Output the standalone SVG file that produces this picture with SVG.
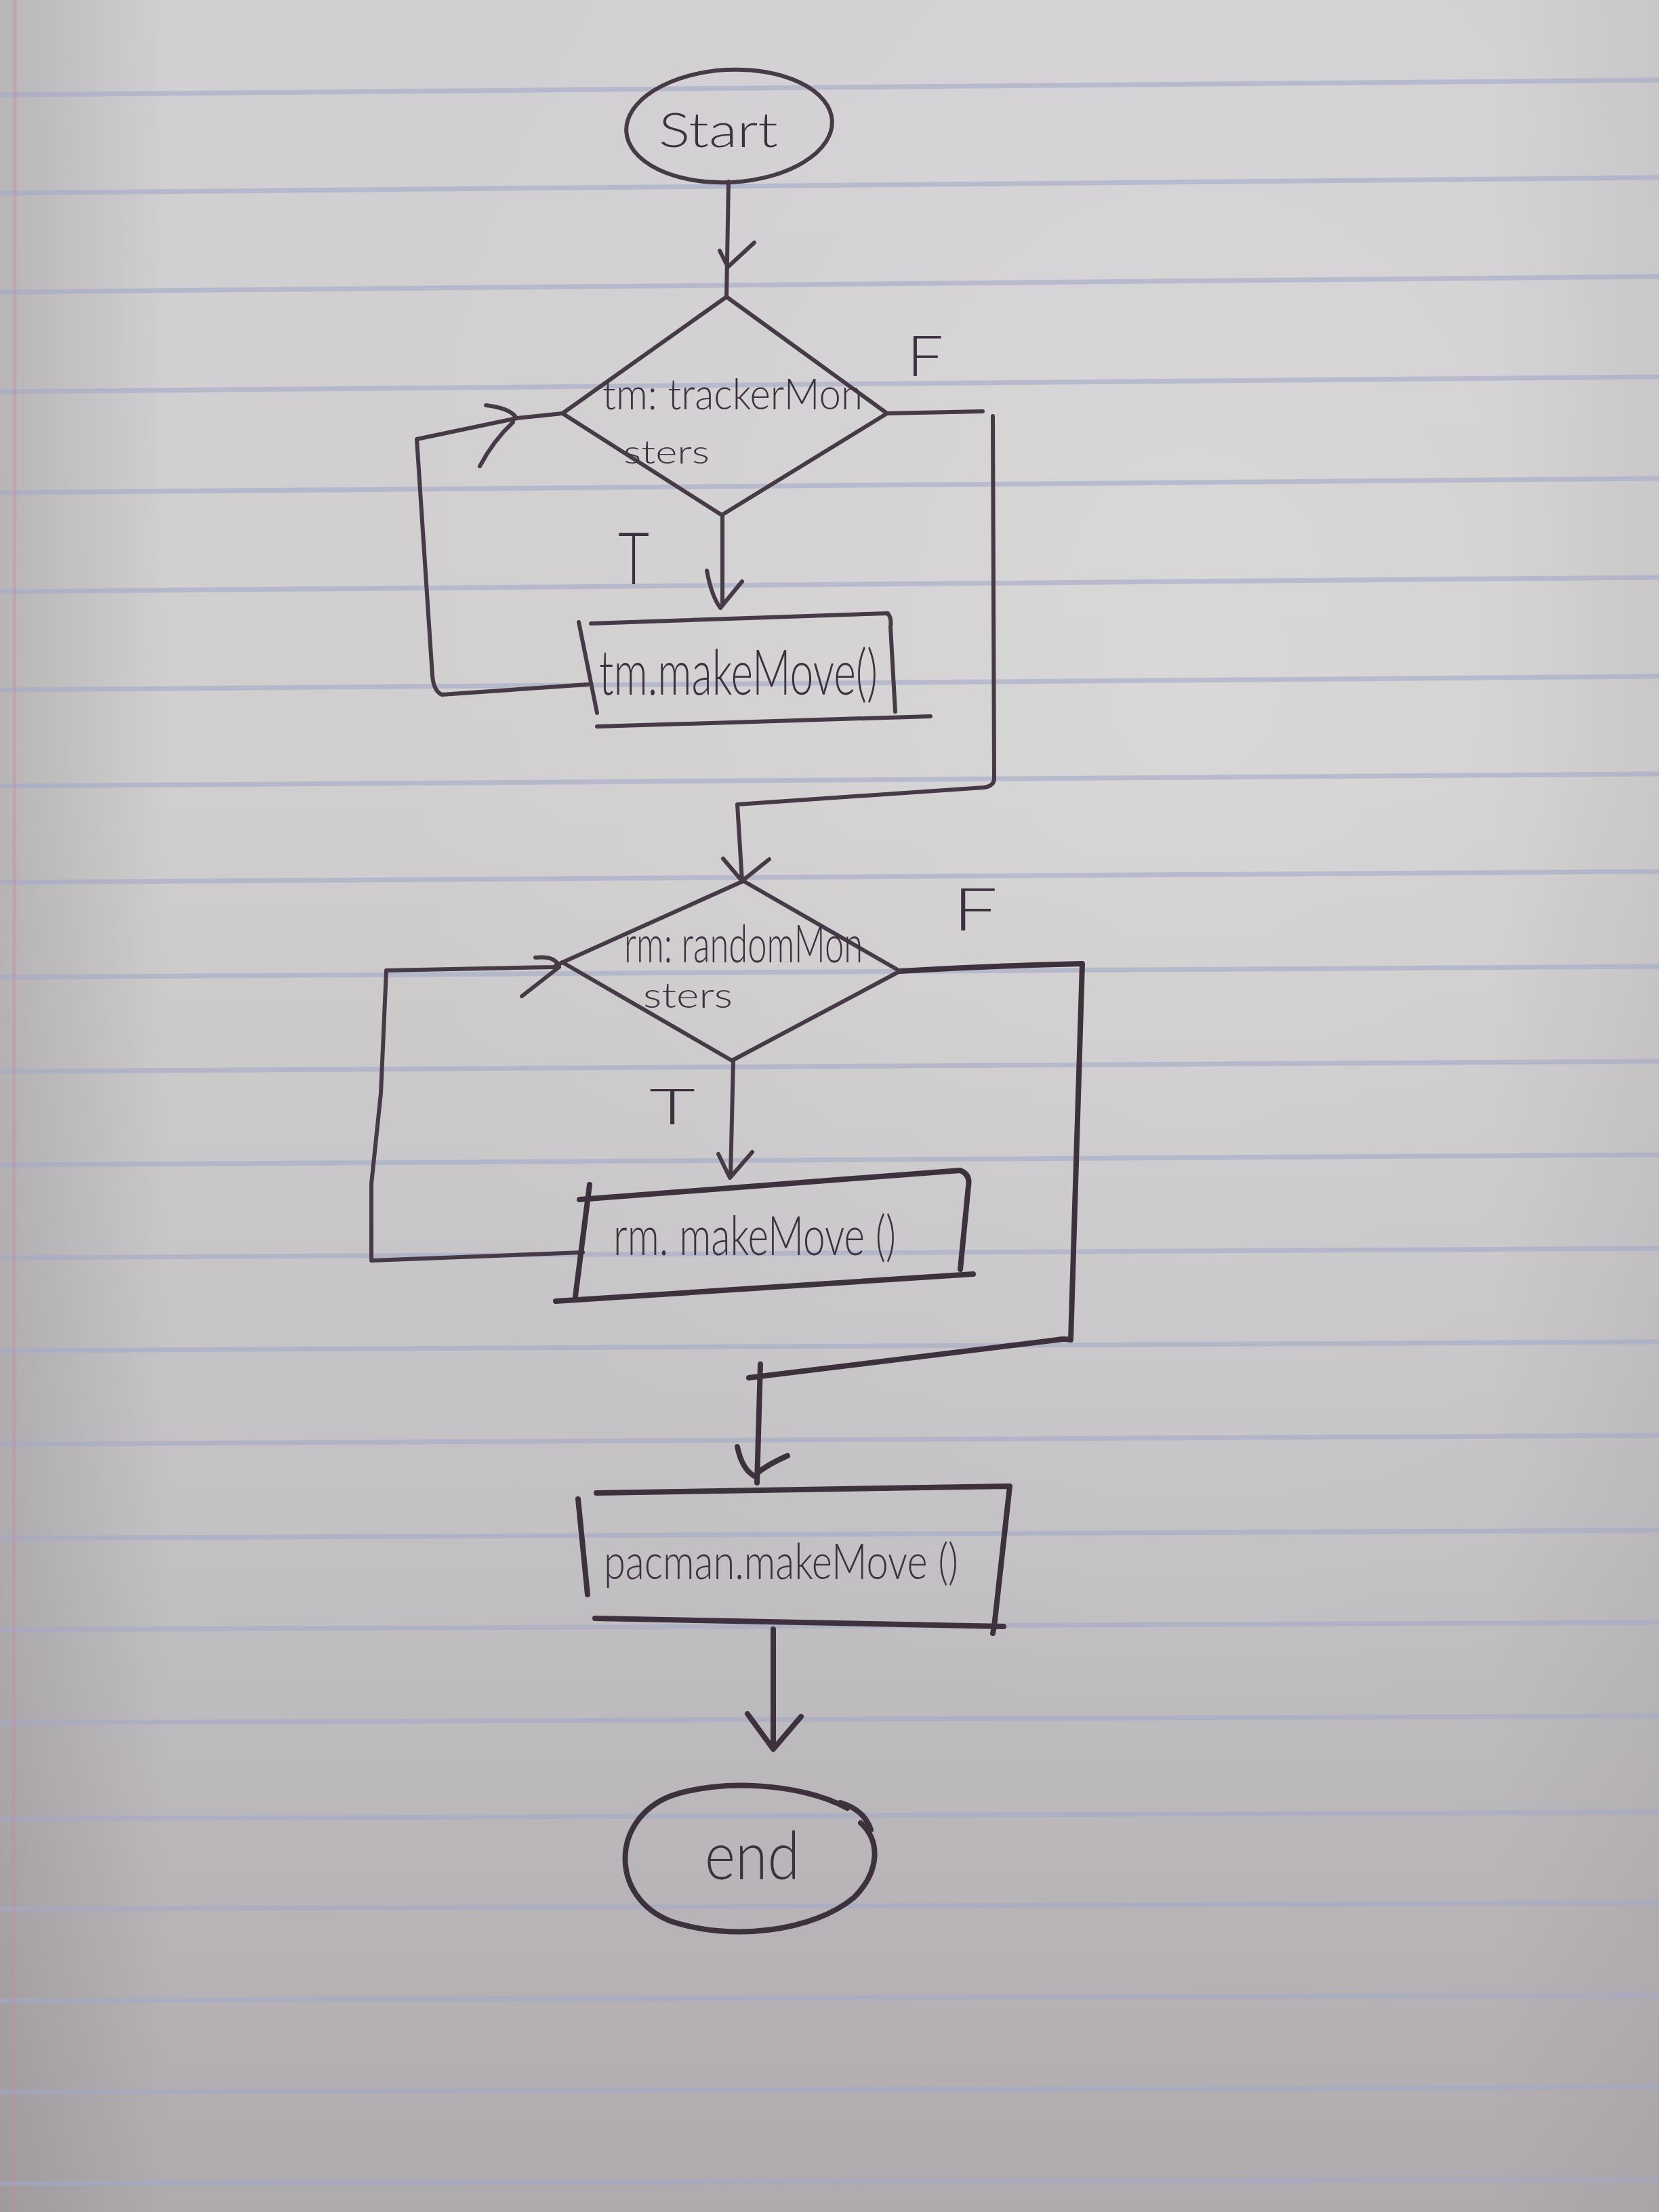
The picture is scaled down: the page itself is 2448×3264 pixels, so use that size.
<svg xmlns="http://www.w3.org/2000/svg" width="2448" height="3264" viewBox="0 0 2448 3264">
  <defs>
    <linearGradient id="paper" x1="0" y1="0" x2="0" y2="1">
      <stop offset="0" stop-color="#d1cfd1"/>
      <stop offset="0.35" stop-color="#d0cecf"/>
      <stop offset="0.7" stop-color="#c3c0c3"/>
      <stop offset="1" stop-color="#aeaaad"/>
    </linearGradient>
    <radialGradient id="glow" cx="0.72" cy="0.3" r="0.5">
      <stop offset="0" stop-color="#ffffff" stop-opacity="0.18"/>
      <stop offset="1" stop-color="#ffffff" stop-opacity="0"/>
    </radialGradient>
    <linearGradient id="edge" x1="0" y1="0" x2="1" y2="0">
      <stop offset="0" stop-color="#6e6a6e" stop-opacity="0.25"/>
      <stop offset="0.1" stop-color="#6e6a6e" stop-opacity="0"/>
      <stop offset="0.9" stop-color="#6e6a6e" stop-opacity="0"/>
      <stop offset="1" stop-color="#6e6a6e" stop-opacity="0.1"/>
    </linearGradient>
  </defs>
  <style>
    .rule { stroke: #a4a8c8; stroke-width: 7; stroke-opacity: 0.6; fill: none; }
    .ink { fill: none; stroke: #463a46; stroke-width: 6; stroke-linecap: round; stroke-linejoin: round; }
    .bold { stroke-width: 8; stroke: #3c313d; }
    .txt { font-family: "Lato", "Liberation Sans", sans-serif; font-weight: 300; fill: #3d3140; stroke: none; }
  </style>

  <!-- lined paper -->
  <rect width="2448" height="3264" fill="url(#paper)"/>
  <rect width="2448" height="3264" fill="url(#glow)"/>
  <rect width="2448" height="3264" fill="url(#edge)"/>
  <g id="paper-rules">
    <path class="rule" d="M0,140 L2448,118"/>
    <path class="rule" d="M0,285 L2448,262"/>
    <path class="rule" d="M0,431 L2448,408"/>
    <path class="rule" d="M0,578 L2448,556"/>
    <path class="rule" d="M0,727 L2448,706"/>
    <path class="rule" d="M0,873 L2448,852"/>
    <path class="rule" d="M0,1018 L2448,998"/>
    <path class="rule" d="M0,1160 L2448,1142"/>
    <path class="rule" d="M0,1302 L2448,1286"/>
    <path class="rule" d="M0,1442 L2448,1426"/>
    <path class="rule" d="M0,1581 L2448,1566"/>
    <path class="rule" d="M0,1719 L2448,1704"/>
    <path class="rule" d="M0,1856 L2448,1842"/>
    <path class="rule" d="M0,1993 L2448,1980"/>
    <path class="rule" d="M0,2131 L2448,2118"/>
    <path class="rule" d="M0,2270 L2448,2258"/>
    <path class="rule" d="M0,2405 L2448,2394"/>
    <path class="rule" d="M0,2542 L2448,2532"/>
    <path class="rule" d="M0,2684 L2448,2674"/>
    <path class="rule" d="M0,2817 L2448,2808"/>
    <path class="rule" d="M0,2952 L2448,2944"/>
    <path class="rule" d="M0,3087 L2448,3080"/>
    <path class="rule" d="M0,3222 L2448,3216"/>
  </g>
  <path d="M22,0 L20,3264" stroke="#c98f98" stroke-width="5" stroke-opacity="0.45" fill="none"/>

  <!-- connectors -->
  <g id="connectors" class="ink">
    <!-- start to first decision -->
    <path d="M1075,268 L1072,438"/>
    <path d="M1062,370 L1074,394 L1113,358"/>
    <!-- first decision, true branch -->
    <path d="M1066,760 L1066,893"/>
    <path d="M1043,842 Q1050,880 1063,897 L1095,858"/>
    <!-- loop back to first decision -->
    <path d="M867,1010 L652,1025 Q640,1020 638,997 L615,648 L763,617 L830,610"/>
    <path d="M717,598 Q750,602 760,614 M757,623 Q728,650 708,688"/>
    <!-- first decision, false branch -->
    <path d="M1309,610 L1450,607"/>
    <path d="M1465,614 L1467,1150 Q1466,1160 1452,1162 L1088,1187 L1095,1300"/>
    <path d="M1067,1267 L1095,1300 L1135,1268"/>
    <!-- second decision, true branch -->
    <path d="M1082,1565 L1078,1735"/>
    <path d="M1060,1703 L1077,1738 L1110,1700"/>
    <!-- loop back to second decision -->
    <path d="M860,1848 L548,1860 L548,1747 L562,1613 L570,1432 L817,1427 L830,1420"/>
    <path d="M790,1413 Q815,1410 823,1422 M825,1427 L770,1470"/>
    <!-- second decision, false branch -->
    <path class="bold" d="M1328,1433 Q1460,1425 1597,1422 L1580,1977 Q1570,1975 1560,1977 L1105,2033"/>
    <path class="bold" d="M1122,2013 L1117,2188"/>
    <path class="bold" d="M1088,2135 Q1095,2168 1113,2178 M1162,2148 Q1135,2160 1118,2173"/>
    <!-- pacman move to end -->
    <path class="bold" d="M1141,2404 L1141,2580"/>
    <path class="bold" d="M1103,2529 L1141,2581 L1182,2533"/>
    <!-- branch labels -->
    <text class="txt" x="1338" y="555" font-size="82" textLength="54" lengthAdjust="spacingAndGlyphs">F</text>
    <text class="txt" x="912" y="862" font-size="106" textLength="46" lengthAdjust="spacingAndGlyphs">T</text>
    <text class="txt" x="1406" y="1373" font-size="86" textLength="66" lengthAdjust="spacingAndGlyphs">F</text>
    <text class="txt" x="958" y="1659" font-size="72" textLength="68" lengthAdjust="spacingAndGlyphs">T</text>
  </g>

  <g id="start">
    <ellipse class="ink" cx="1076" cy="186" rx="152" ry="83" transform="rotate(-3 1076 186)"/>
    <text class="txt" x="972" y="217" font-size="70" textLength="176" lengthAdjust="spacingAndGlyphs">Start</text>
  </g>

  <g id="decision-tracker">
    <path class="ink" d="M1072,438 L1309,610 L1065,760 L830,610 Z"/>
    <text class="txt" transform="translate(889 604) scale(1 1.2)" font-size="53" textLength="384" lengthAdjust="spacingAndGlyphs">tm: trackerMon</text>
    <text class="txt" x="920" y="684" font-size="48" textLength="127" lengthAdjust="spacingAndGlyphs">sters</text>
  </g>

  <g id="tracker-move">
    <path class="ink" d="M872,920 L1310,905 Q1316,912 1314,925 L1321,1050"/>
    <path class="ink" d="M854,918 L881,1052"/>
    <path class="ink" d="M881,1072 L1373,1057"/>
    <text class="txt" x="884" y="1025" font-size="92" textLength="411" lengthAdjust="spacingAndGlyphs">tm.makeMove()</text>
  </g>

  <g id="decision-random">
    <path class="ink" d="M1097,1300 L1328,1433 L1080,1565 L830,1420 Z"/>
    <text class="txt" transform="translate(921 1420) scale(1 1.25)" font-size="61" textLength="352" lengthAdjust="spacingAndGlyphs">rm: randomMon</text>
    <text class="txt" x="949" y="1487" font-size="52" textLength="132" lengthAdjust="spacingAndGlyphs">sters</text>
  </g>

  <g id="random-move">
    <path class="ink bold" d="M855,1770 L1417,1727 Q1432,1733 1429,1750 L1417,1873"/>
    <path class="ink bold" d="M870,1748 L849,1913"/>
    <path class="ink bold" d="M820,1920 L1436,1880"/>
    <text class="txt" x="905" y="1852" font-size="80" textLength="417" lengthAdjust="spacingAndGlyphs">rm. makeMove ()</text>
  </g>

  <g id="pacman-move">
    <path class="ink bold" d="M880,2203 L1490,2193 L1467,2400 L1465,2410"/>
    <path class="ink bold" d="M853,2212 L867,2353"/>
    <path class="ink bold" d="M878,2388 L1481,2400"/>
    <text class="txt" x="891" y="2330" font-size="72" textLength="523" lengthAdjust="spacingAndGlyphs">pacman.makeMove ()</text>
  </g>

  <g id="end">
    <path class="ink bold" d="M1250,2668 C1180,2630 1060,2625 990,2650 C900,2685 900,2800 990,2835 C1080,2865 1200,2850 1260,2800 C1300,2760 1298,2715 1270,2690 M1240,2660 Q1275,2670 1285,2700"/>
    <text class="txt" x="1040" y="2773" font-size="98" textLength="140" lengthAdjust="spacingAndGlyphs">end</text>
  </g>
</svg>
